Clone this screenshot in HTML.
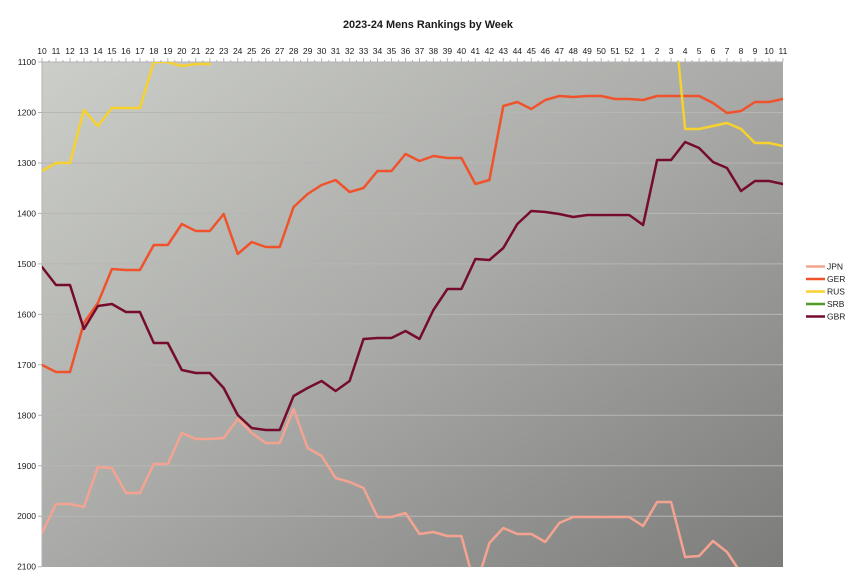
<!DOCTYPE html>
<html>
<head>
<meta charset="utf-8">
<style>
  html, body { margin: 0; padding: 0; background: #ffffff; }
  svg { display: block; }
  text { font-family: "Liberation Sans", Arial, sans-serif; fill: #1a1a1a; }
</style>
</head>
<body>
<svg width="856" height="584" viewBox="0 0 856 584" xmlns="http://www.w3.org/2000/svg">
  <defs>
    <linearGradient id="bg" x1="0" y1="0" x2="1" y2="1">
      <stop offset="0" stop-color="#cccec9"/>
      <stop offset="0.5" stop-color="#a9aaa7"/>
      <stop offset="1" stop-color="#7c7c7a"/>
    </linearGradient>
    <clipPath id="plot">
      <rect x="42" y="62" width="741" height="505"/>
    </clipPath>
  </defs>

  <text x="428" y="28" font-size="11" font-weight="bold" text-anchor="middle" textLength="170" lengthAdjust="spacingAndGlyphs">2023-24 Mens Rankings by Week</text>

  <rect x="42" y="62" width="741" height="505" fill="url(#bg)"/>

  <g stroke="#b6b6b4" stroke-width="1">
    <line x1="42" y1="112.5" x2="783" y2="112.5"/>
    <line x1="42" y1="163" x2="783" y2="163"/>
    <line x1="42" y1="213.4" x2="783" y2="213.4"/>
    <line x1="42" y1="263.9" x2="783" y2="263.9"/>
    <line x1="42" y1="314.4" x2="783" y2="314.4"/>
    <line x1="42" y1="364.8" x2="783" y2="364.8"/>
    <line x1="42" y1="415.3" x2="783" y2="415.3"/>
    <line x1="42" y1="465.8" x2="783" y2="465.8"/>
    <line x1="42" y1="516.2" x2="783" y2="516.2"/>
  </g>

  <g stroke="#b3b3b3" stroke-width="1">
    <line x1="42" y1="62" x2="783" y2="62"/>
    <line x1="42" y1="62" x2="42" y2="567"/>
  </g>

  <g stroke="#b3b3b3" stroke-width="1">
    <path d="M38 62H42 M38 112.5H42 M38 163H42 M38 213.4H42 M38 263.9H42 M38 314.4H42 M38 364.8H42 M38 415.3H42 M38 465.8H42 M38 516.2H42 M38 566.7H42"/>
  </g>

  <g font-size="8.5" text-anchor="end">
    <text x="36" y="65">1100</text>
    <text x="36" y="115.5">1200</text>
    <text x="36" y="166">1300</text>
    <text x="36" y="216.4">1400</text>
    <text x="36" y="266.9">1500</text>
    <text x="36" y="317.4">1600</text>
    <text x="36" y="367.8">1700</text>
    <text x="36" y="418.3">1800</text>
    <text x="36" y="468.8">1900</text>
    <text x="36" y="519.2">2000</text>
    <text x="36" y="569.7">2100</text>
  </g>

  <g stroke="#b3b3b3" stroke-width="1">
    <path d="M42 62V58 M56 62V58 M70 62V58 M83.9 62V58 M97.9 62V58 M111.9 62V58 M125.9 62V58 M139.9 62V58 M153.8 62V58 M167.8 62V58 M181.8 62V58 M195.8 62V58 M209.8 62V58 M223.7 62V58 M237.7 62V58 M251.7 62V58 M265.7 62V58 M279.7 62V58 M293.6 62V58 M307.6 62V58 M321.6 62V58 M335.6 62V58 M349.6 62V58 M363.5 62V58 M377.5 62V58 M391.5 62V58 M405.5 62V58 M419.5 62V58 M433.4 62V58 M447.4 62V58 M461.4 62V58 M475.4 62V58 M489.4 62V58 M503.3 62V58 M517.3 62V58 M531.3 62V58 M545.3 62V58 M559.3 62V58 M573.2 62V58 M587.2 62V58 M601.2 62V58 M615.2 62V58 M629.2 62V58 M643.1 62V58 M657.1 62V58 M671.1 62V58 M685.1 62V58 M699.1 62V58 M713 62V58 M727 62V58 M741 62V58 M755 62V58 M769 62V58 M782.9 62V58"/>
    <path d="M49 62V60 M63 62V60 M77 62V60 M90.9 62V60 M104.9 62V60 M118.9 62V60 M132.9 62V60 M146.8 62V60 M160.8 62V60 M174.8 62V60 M188.8 62V60 M202.8 62V60 M216.7 62V60 M230.7 62V60 M244.7 62V60 M258.7 62V60 M272.7 62V60 M286.6 62V60 M300.6 62V60 M314.6 62V60 M328.6 62V60 M342.6 62V60 M356.5 62V60 M370.5 62V60 M384.5 62V60 M398.5 62V60 M412.5 62V60 M426.4 62V60 M440.4 62V60 M454.4 62V60 M468.4 62V60 M482.4 62V60 M496.3 62V60 M510.3 62V60 M524.3 62V60 M538.3 62V60 M552.3 62V60 M566.2 62V60 M580.2 62V60 M594.2 62V60 M608.2 62V60 M622.2 62V60 M636.1 62V60 M650.1 62V60 M664.1 62V60 M678.1 62V60 M692.1 62V60 M706 62V60 M720 62V60 M734 62V60 M748 62V60 M762 62V60 M775.9 62V60"/>
  </g>

  <g font-size="8.5" text-anchor="middle">
    <text x="42" y="54">10</text>
    <text x="56" y="54">11</text>
    <text x="70" y="54">12</text>
    <text x="83.9" y="54">13</text>
    <text x="97.9" y="54">14</text>
    <text x="111.9" y="54">15</text>
    <text x="125.9" y="54">16</text>
    <text x="139.9" y="54">17</text>
    <text x="153.8" y="54">18</text>
    <text x="167.8" y="54">19</text>
    <text x="181.8" y="54">20</text>
    <text x="195.8" y="54">21</text>
    <text x="209.8" y="54">22</text>
    <text x="223.7" y="54">23</text>
    <text x="237.7" y="54">24</text>
    <text x="251.7" y="54">25</text>
    <text x="265.7" y="54">26</text>
    <text x="279.7" y="54">27</text>
    <text x="293.6" y="54">28</text>
    <text x="307.6" y="54">29</text>
    <text x="321.6" y="54">30</text>
    <text x="335.6" y="54">31</text>
    <text x="349.6" y="54">32</text>
    <text x="363.5" y="54">33</text>
    <text x="377.5" y="54">34</text>
    <text x="391.5" y="54">35</text>
    <text x="405.5" y="54">36</text>
    <text x="419.5" y="54">37</text>
    <text x="433.4" y="54">38</text>
    <text x="447.4" y="54">39</text>
    <text x="461.4" y="54">40</text>
    <text x="475.4" y="54">41</text>
    <text x="489.4" y="54">42</text>
    <text x="503.3" y="54">43</text>
    <text x="517.3" y="54">44</text>
    <text x="531.3" y="54">45</text>
    <text x="545.3" y="54">46</text>
    <text x="559.3" y="54">47</text>
    <text x="573.2" y="54">48</text>
    <text x="587.2" y="54">49</text>
    <text x="601.2" y="54">50</text>
    <text x="615.2" y="54">51</text>
    <text x="629.2" y="54">52</text>
    <text x="643.1" y="54">1</text>
    <text x="657.1" y="54">2</text>
    <text x="671.1" y="54">3</text>
    <text x="685.1" y="54">4</text>
    <text x="699.1" y="54">5</text>
    <text x="713" y="54">6</text>
    <text x="727" y="54">7</text>
    <text x="741" y="54">8</text>
    <text x="755" y="54">9</text>
    <text x="769" y="54">10</text>
    <text x="782.9" y="54">11</text>
  </g>

  <g clip-path="url(#plot)" fill="none" stroke-width="2.5" stroke-linejoin="round" stroke-linecap="round">
    <polyline stroke="#f4a391" points="42,533 56,504 70,504 83.9,507 97.9,467 111.9,468 125.9,493 139.9,493 153.8,464 167.8,464 181.8,433 195.8,439 209.8,439 223.7,438 237.7,419 251.7,433 265.7,443 279.7,443 293.6,409 307.6,448 321.6,456 335.6,478 349.6,482 363.5,488 377.5,517 391.5,517 405.5,513 419.5,534 433.4,532 447.4,536 461.4,536 475.4,588 489.4,543 503.3,528 517.3,534 531.3,534 545.3,542 559.3,523 573.2,517 587.2,517 601.2,517 615.2,517 629.2,517 643.1,526 657.1,502 671.1,502 685.1,557 699.1,556 713,541 727,552 741,573 755,600 769,600 782.9,600"/>
    <polyline stroke="#f0532b" points="42,365 56,372 70,372 83.9,323 97.9,303 111.9,269 125.9,270 139.9,270 153.8,245 167.8,245 181.8,224 195.8,231 209.8,231 223.7,214 237.7,254 251.7,242 265.7,247 279.7,247 293.6,207 307.6,194 321.6,185 335.6,180 349.6,192 363.5,188 377.5,171 391.5,171 405.5,154 419.5,161 433.4,156 447.4,158 461.4,158 475.4,184 489.4,180 503.3,106 517.3,102 531.3,109 545.3,100 559.3,96 573.2,97 587.2,96 601.2,96 615.2,99 629.2,99 643.1,100 657.1,96 671.1,96 685.1,96 699.1,96 713,103 727,113 741,111 755,102 769,102 782.9,99"/>
    <polyline stroke="#f7d12e" points="42,171 56,163 70,163 83.9,110 97.9,126 111.9,108 125.9,108 139.9,108 153.8,62 167.8,62 181.8,66 195.8,64 209.8,64"/>
    <polyline stroke="#f7d12e" points="671.1,-16 685.1,129 699.1,129 713,126 727,123 741,129 755,143 769,143 782.9,146"/>
    <polyline stroke="#760c2c" points="42,267 56,285 70,285 83.9,329 97.9,306 111.9,304 125.9,312 139.9,312 153.8,343 167.8,343 181.8,370 195.8,373 209.8,373 223.7,388 237.7,415 251.7,428 265.7,430 279.7,430 293.6,396 307.6,388 321.6,381 335.6,391 349.6,381 363.5,339 377.5,338 391.5,338 405.5,331 419.5,339 433.4,310 447.4,289 461.4,289 475.4,259 489.4,260 503.3,248 517.3,224 531.3,211 545.3,212 559.3,214 573.2,217 587.2,215 601.2,215 615.2,215 629.2,215 643.1,225 657.1,160 671.1,160 685.1,142 699.1,148 713,162 727,168 741,191 755,181 769,181 782.9,184"/>
  </g>

  <g stroke-width="2.5">
    <line x1="806" y1="266.5" x2="825" y2="266.5" stroke="#f4a391"/>
    <line x1="806" y1="279" x2="825" y2="279" stroke="#f0532b"/>
    <line x1="806" y1="291.5" x2="825" y2="291.5" stroke="#f7d12e"/>
    <line x1="806" y1="304" x2="825" y2="304" stroke="#4f9a2a"/>
    <line x1="806" y1="316.5" x2="825" y2="316.5" stroke="#760c2c"/>
  </g>
  <g font-size="8.5">
    <text x="827" y="269.5">JPN</text>
    <text x="827" y="282">GER</text>
    <text x="827" y="294.5">RUS</text>
    <text x="827" y="307">SRB</text>
    <text x="827" y="319.5">GBR</text>
  </g>
</svg>
</body>
</html>
